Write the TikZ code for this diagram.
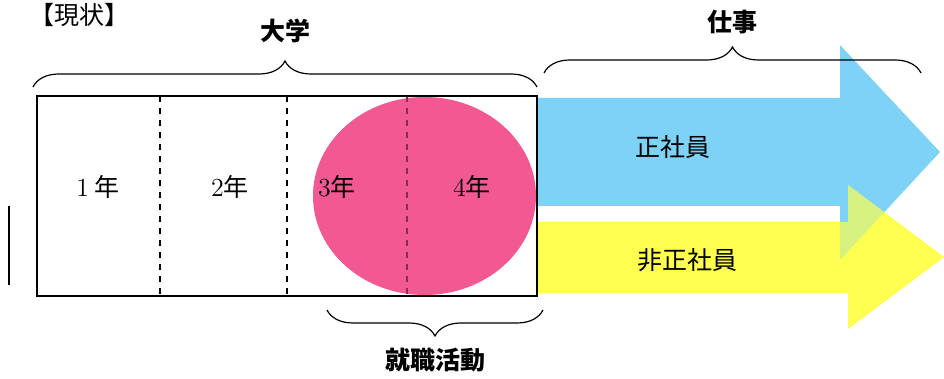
\documentclass[tikz,border=0pt]{standalone}
\usepackage{fontspec}
\newfontfamily\jp{Noto Sans CJK JP}
\usetikzlibrary{decorations.pathreplacing}
\definecolor{seiki}{RGB}{125,210,245}
\definecolor{hiseiki}{RGB}{255,255,80}
\definecolor{shukatsu}{RGB}{242,88,145}
\newcommand{\num}[1]{{\rmfamily\fontsize{13}{15}\selectfont #1}}

\begin{document}
\begin{tikzpicture}[x=0.5pt,y=-0.5pt,
    font=\jp\fontsize{12.5}{15}\selectfont,
    head/.style={font=\jp\bfseries\fontsize{12.5}{15}\selectfont},
    curly/.style={decorate,decoration={brace,amplitude=13pt},line width=0.6pt}]
  \useasboundingbox (0,0) rectangle (944,379);
  % arrows
  \fill[seiki] (537,98) -- (840,98) -- (840,45) -- (940,152) -- (840,260) -- (840,206) -- (537,206) -- cycle;
  \fill[hiseiki] (537,222) -- (848,222) -- (848,185) -- (944,257) -- (848,329) -- (848,293) -- (537,293) -- cycle;
  \begin{scope}
    \clip (537,222) -- (848,222) -- (848,185) -- (944,257) -- (848,329) -- (848,293) -- (537,293) -- cycle;
    \fill[seiki, fill opacity=0.3] (840,45) -- (940,152) -- (840,260) -- cycle;
  \end{scope}
  \node (seishain) at (673,147) {正社員};
  \node (hiseishain) at (687,260) {非正社員};
  % years
  \draw[dashed, line width=0.6pt] (160,96) -- (160,296);
  \draw[dashed, line width=0.6pt] (287,96) -- (287,296);
  \fill[shukatsu] (424.5,196) ellipse [x radius=111.5, y radius=99];
  \draw[dashed, line width=0.6pt, shukatsu!55!black] (407,96) -- (407,296);
  \draw[line width=0.8pt] (37,96) rectangle (537,296);
  \node (nen1) at (98,187) {\num{1}\ 年};
  \node (nen2) at (230,187) {\num{2}年};
  \node (nen3) at (337,187) {\num{3}年};
  \node (nen4) at (472,187) {\num{4}年};
  % braces
  \draw[curly] (33,87) -- (537,87);
  \draw[curly] (544,73) -- (921,73);
  \draw[curly] (543,310) -- (327,310);
  \node[head] (daigaku) at (285,31) {大学};
  \node[head] (shigoto) at (732,22) {仕事};
  \node[head] (katsudo) at (435,360) {就職活動};
  \node (genjo) at (80,15) {【現状】};
  \draw[line width=1pt] (9,206) -- (9,285);
\end{tikzpicture}
\end{document}
